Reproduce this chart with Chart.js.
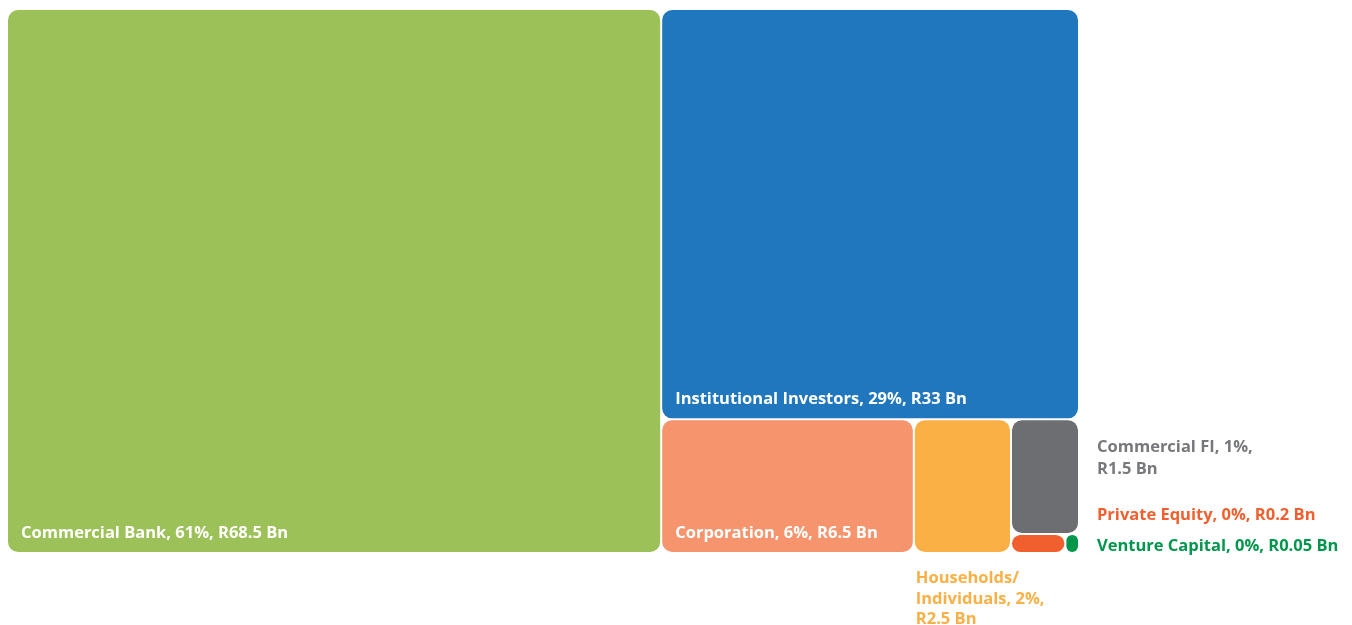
<!DOCTYPE html>
<html>
<head>
<meta charset="utf-8">
<script src="https://cdn.jsdelivr.net/npm/chart.js@4.4.1/dist/chart.umd.min.js"></script>
<style>
  html, body { margin: 0; padding: 0; background: #fff; }
  canvas { display: block; }
</style>
</head>
<body>
<canvas id="treeChart" width="1352" height="625"></canvas>
<script>
// values
const categories = ['Commercial Bank', 'Institutional Investors', 'Corporation', 'Households/ Individuals', 'Commercial FI', 'Private Equity', 'Venture Capital'];
const amounts = [68.5, 33, 6.5, 2.5, 1.5, 0.2, 0.05];
const shares = [61, 29, 6, 2, 1, 0, 0];
const labelLines = [
  ['Commercial Bank, 61%, R68.5 Bn'],
  ['Institutional Investors, 29%, R33 Bn'],
  ['Corporation, 6%, R6.5 Bn'],
  ['Households/', 'Individuals, 2%,', 'R2.5 Bn'],
  ['Commercial FI, 1%,', 'R1.5 Bn'],
  ['Private Equity, 0%, R0.2 Bn'],
  ['Venture Capital, 0%, R0.05 Bn']
];
const cellColors = ['#9BC158', '#2177BE', '#F6956D', '#FBB045', '#6D6E71', '#F15F2E', '#00964B'];
const textColors = ['#FFFFFF', '#FFFFFF', '#FFFFFF', '#FBB045', '#77787B', '#F15F2E', '#00964B'];

const FONT = 'bold 16.5px "Open Sans", sans-serif';

// slice along the longer side, one item at a time
function layoutCells(chart) {
  const xs = chart.scales.x, ys = chart.scales.y;
  let x0 = xs.min, x1 = xs.max, y0 = ys.min, y1 = ys.max;
  let rest = amounts.reduce((a, b) => a + b, 0);
  const cells = [];
  amounts.forEach((v, i) => {
    const pw = Math.abs(xs.getPixelForValue(x1) - xs.getPixelForValue(x0));
    const ph = Math.abs(ys.getPixelForValue(y1) - ys.getPixelForValue(y0));
    const f = i === amounts.length - 1 ? 1 : v / rest;
    if (pw >= ph) {
      const xm = x0 + (x1 - x0) * f;
      cells.push({ x0: x0, x1: xm, y0: y0, y1: y1 });
      x0 = xm;
    } else {
      const ym = y0 + (y1 - y0) * f;
      cells.push({ x0: x0, x1: x1, y0: y0, y1: ym });
      y0 = ym;
    }
    rest -= v;
  });
  return cells.map(c => ({
    left: xs.getPixelForValue(c.x0),
    right: xs.getPixelForValue(c.x1),
    top: ys.getPixelForValue(c.y0),
    bottom: ys.getPixelForValue(c.y1)
  }));
}

const treemapPlugin = {
  id: 'treemapPlugin',
  afterDatasetsDraw(chart) {
    const ctx = chart.ctx;
    const cells = layoutCells(chart);
    const area = chart.chartArea;
    ctx.save();
    cells.forEach((c, i) => {
      const l = c.left + 1, t = c.top + 1;
      const w = c.right - c.left - 2, h = c.bottom - c.top - 2;
      const r = Math.min(10, w / 2, h / 2);
      ctx.fillStyle = cellColors[i];
      ctx.beginPath();
      ctx.roundRect(l, t, w, h, r);
      ctx.fill();
    });

    ctx.font = FONT;
    ctx.textBaseline = 'alphabetic';
    ctx.textAlign = 'left';
    cells.forEach((c, i) => {
      ctx.fillStyle = textColors[i];
      const lines = labelLines[i];
      if (i < 3) {
        // inside, bottom-left
        ctx.fillText(lines[0], c.left + 14, c.bottom - 15);
      } else if (i === 3) {
        // below the cell
        lines.forEach((s, k) => ctx.fillText(s, c.left + 2, c.bottom + 30 + k * 20.5));
      } else if (i === 4) {
        lines.forEach((s, k) => ctx.fillText(s, area.right + 18, c.top + 33 + k * 22));
      } else if (i === 5) {
        ctx.fillText(lines[0], area.right + 18, c.top - 14);
      } else {
        ctx.fillText(lines[0], area.right + 18, c.bottom - 2);
      }
    });
    ctx.restore();
  }
};

new Chart(document.getElementById('treeChart').getContext('2d'), {
  type: 'scatter',
  data: { datasets: [{ data: [] }] },
  options: {
    responsive: false,
    animation: false,
    layout: { padding: { left: 7, top: 9, right: 273, bottom: 72 } },
    scales: {
      x: { type: 'linear', min: 0, max: 100, display: false },
      y: { type: 'linear', min: 0, max: 100, reverse: true, display: false }
    },
    plugins: { legend: { display: false }, tooltip: { enabled: false } }
  },
  plugins: [treemapPlugin]
});
</script>
</body>
</html>
